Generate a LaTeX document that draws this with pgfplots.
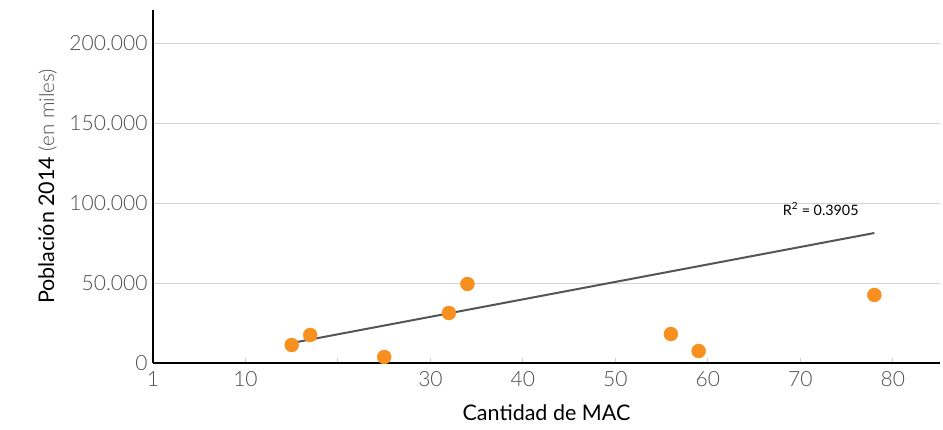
\documentclass[border=0pt]{standalone}
\usepackage{pgfplots}
\pgfplotsset{compat=1.18}
\usepackage{fontspec}
\setmainfont{Lato}
\newfontfamily\lightfont{Lato Light}
\definecolor{dotorange}{HTML}{F7901E}
\definecolor{trend}{HTML}{555555}
\definecolor{gridc}{HTML}{D3D3D3}
\definecolor{ticklab}{HTML}{4D4D4D}
\begin{document}
\begin{tikzpicture}
\begin{axis}[
  scale only axis,
  width=787pt, height=353pt,
  xmin=0, xmax=85.1,
  ymin=0, ymax=220625,
  scaled y ticks=false,
  axis x line=bottom, axis y line=left,
  axis line style={black, line width=2.2pt, -},
  xtick={0,10,20,30,40,50,60,70,80},
  xticklabels={1,10,,30,40,50,60,70,80},
  ytick={0,50000,100000,150000,200000},
  yticklabels={0,50.000,100.000,150.000,200.000},
  ymajorgrids,
  grid style={gridc, line width=1pt},
  tick align=inside,
  major tick length=5pt,
  xtick style={gridc, line width=1pt},
  ytick style={draw=none},
  tick label style={font=\lightfont\fontsize{21}{23}\selectfont, text=ticklab},
  /pgf/number format/assume math mode=true,
  xticklabel style={yshift=-5pt},
  yticklabel style={xshift=-2pt},
  xlabel={Cantidad de MAC},
  xlabel style={font=\fontsize{21.5}{24}\selectfont, at={(axis description cs:0.5,0)}, anchor=north, yshift=-41pt, inner sep=0pt},
  ylabel={Población 2014 {\lightfont\fontsize{20.5}{23}\selectfont\color{ticklab}(en miles)}},
  ylabel style={font=\fontsize{21.5}{24}\selectfont, at={(axis description cs:-0.122,0.5)}, anchor=south, inner sep=0pt},
  clip=false,
]
\addplot[trend, line width=2pt] coordinates {(15,12500) (78,81250)};
\addplot[only marks, mark=*, mark size=7pt, mark options={fill=dotorange, draw=dotorange}]
  coordinates {
  (15,11250) (17,17500) (25,3750) (32,31250) (34,49375)
  (56,18125) (59,7500) (78,42500)
  };
\node[font=\fontsize{14.3}{16}\selectfont, text=black] at (axis cs:72.2,96250) {R\textsuperscript{2} = 0.3905};
\end{axis}
\path ([xshift=-153pt,yshift=-66pt]current axis.south west) rectangle ([xshift=3pt,yshift=10pt]current axis.north east);
\end{tikzpicture}
\end{document}
